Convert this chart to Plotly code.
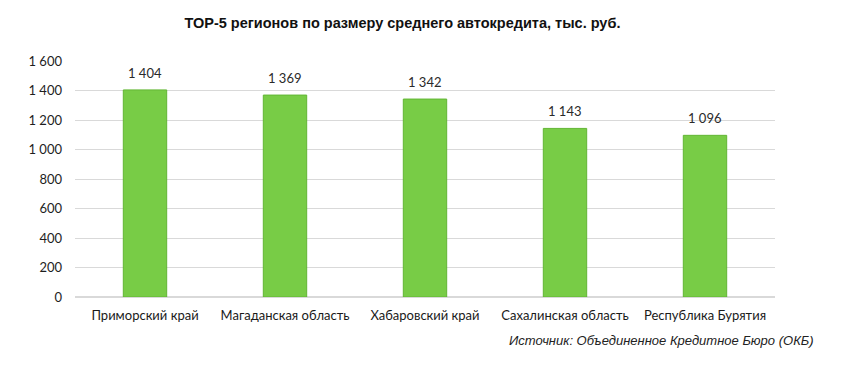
import plotly.graph_objects as go

regions = ["Приморский край", "Магаданская область", "Хабаровский край",
           "Сахалинская область", "Республика Бурятия"]
values = [1404, 1369, 1342, 1143, 1096]
y_ticks = [0, 200, 400, 600, 800, 1000, 1200, 1400, 1600]

title_text = "TOP-5 регионов по размеру среднего автокредита, тыс. руб."
source_text = "Источник: Объединенное Кредитное Бюро (ОКБ)"

labels = [f"{v:,}".replace(",", " ") for v in values]

fig = go.Figure(go.Bar(
    x=regions, y=values,
    marker=dict(color="#78CC46", line=dict(color="#62B634", width=1)),
    cliponaxis=False,
))

ann = [dict(x=r, y=v, text=t, xref="x", yref="y", showarrow=False,
            yanchor="bottom", yshift=7,
            font=dict(family="Lato, Open Sans, sans-serif", size=13, color="#2a2a2a"))
       for r, v, t in zip(regions, values, labels)]
ann.append(dict(text=f"<i>{source_text}</i>", xref="paper", yref="paper",
                x=1.058, y=-0.185, xanchor="right", yanchor="middle", showarrow=False,
                font=dict(family="Liberation Sans, Arial, sans-serif", size=13, color="#222222")))

fig.update_layout(
    width=850, height=367,
    margin=dict(l=67, r=83, t=53, b=78, autoexpand=False),
    paper_bgcolor="white", plot_bgcolor="white",
    separators=". ",
    bargap=0.69,
    showlegend=False,
    title=dict(text=f"<b>{title_text}</b>", x=0.464, xanchor="center", y=0.96, yanchor="middle",
               font=dict(family="Liberation Sans, Arial, sans-serif", size=14.5, color="#111111")),
    font=dict(family="Lato, Open Sans, sans-serif", size=13, color="#1e1e1e"),
    annotations=ann,
)
fig.update_yaxes(range=[0, 1600], tickvals=y_ticks, tickformat=",d", automargin=False,
                 showgrid=True, gridcolor="#D9D9D9", gridwidth=1,
                 zeroline=True, zerolinecolor="#D9D9D9", showline=False,
                 ticks="", ticklabelstandoff=12,
                 tickfont=dict(family="Lato, Open Sans, sans-serif", size=13, color="#1e1e1e"))
fig.update_xaxes(showgrid=False, showline=False, ticks="", automargin=False,
                 ticklabelstandoff=9,
                 tickfont=dict(family="Lato, Open Sans, sans-serif", size=13, color="#1a1a1a"))

fig.write_html("out.html")
